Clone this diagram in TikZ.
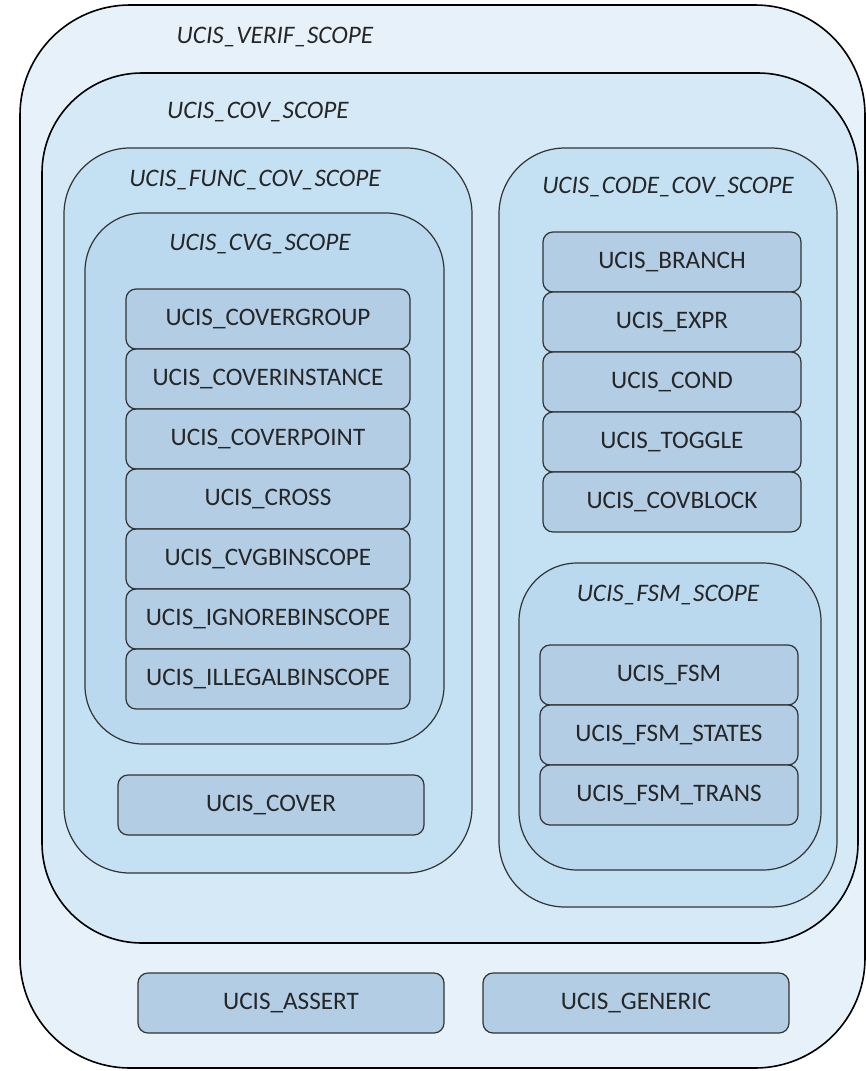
\documentclass[tikz,border=0pt]{standalone}
\usepackage{fontspec}
\setmainfont{Carlito}
\usepackage{xcolor}
\usepackage{tikz}
\usetikzlibrary{positioning}

\definecolor{verifblue}{HTML}{E7F1FA}
\definecolor{covblue}{HTML}{D6E9F7}
\definecolor{groupblue}{HTML}{C3E1F3}
\definecolor{innerblue}{HTML}{BAD9EE}
\definecolor{itemblue}{HTML}{B3CDE4}
\definecolor{edgegray}{HTML}{333333}

\tikzset{
  scopebox/.style={draw=black, line width=0.8pt, rectangle, inner sep=0pt},
  scopelabel/.style={font=\fontsize{12.6}{15}\selectfont\itshape, text=black!85, inner sep=1pt},
  itembox/.style={draw=edgegray, line width=0.6pt, fill=itemblue, rectangle, rounded corners=5pt,
    minimum height=30pt, inner sep=0pt, outer sep=0pt,
    font=\fontsize{12.6}{15}\selectfont, text=black!85},
}

\begin{document}
\begin{tikzpicture}[x=0.5pt, y=-0.5pt, node distance=0pt]
    \useasboundingbox (0,0) rectangle (866,1071);

    % Scopes, outer to inner
    \node (verif) [scopebox, fill=verifblue, rounded corners=55pt, minimum width=422.5pt, minimum height=531.5pt] at (442.5,536.5) {}; % top level scope
    \node (cov) [scopebox, fill=covblue, rounded corners=50pt, minimum width=408pt, minimum height=435pt] at (450,508) {}; % coverage scope
    \node (funccov) [scopebox, draw=edgegray, line width=0.6pt, fill=groupblue, rounded corners=33pt, minimum width=204pt, minimum height=362.5pt] at (268,510.5) {}; % functional coverage
    \node (cvg) [scopebox, draw=edgegray, line width=0.6pt, fill=innerblue, rounded corners=29pt, minimum width=179.5pt, minimum height=265.5pt] at (264.5,478.5) {}; % covergroup scope
    \node (codecov) [scopebox, draw=edgegray, line width=0.6pt, fill=groupblue, rounded corners=33pt, minimum width=169pt, minimum height=379.5pt] at (668,527.5) {}; % code coverage
    \node (fsm) [scopebox, draw=edgegray, line width=0.6pt, fill=innerblue, rounded corners=29pt, minimum width=151pt, minimum height=153.5pt] at (670,716.5) {}; % FSM scope

    % Scope labels
    \node (veriflabel) [scopelabel] at (275,37) {UCIS\_VERIF\_SCOPE};
    \node (covlabel) [scopelabel] at (258,112) {UCIS\_COV\_SCOPE};
    \node (funccovlabel) [scopelabel] at (255,180) {UCIS\_FUNC\_COV\_SCOPE};
    \node (cvglabel) [scopelabel] at (260,244) {UCIS\_CVG\_SCOPE};
    \node (codecovlabel) [scopelabel] at (668,187) {UCIS\_CODE\_COV\_SCOPE};
    \node (fsmlabel) [scopelabel] at (668,595) {UCIS\_FSM\_SCOPE};

    % Covergroup items
    \node (covergroup) [itembox, minimum width=142pt] at (268,319) {UCIS\_COVERGROUP};
    \node (coverinst) [itembox, minimum width=142pt, below=of covergroup] {UCIS\_COVERINSTANCE};
    \node (coverpoint) [itembox, minimum width=142pt, below=of coverinst] {UCIS\_COVERPOINT};
    \node (cross) [itembox, minimum width=142pt, below=of coverpoint] {UCIS\_CROSS};
    \node (cvgbin) [itembox, minimum width=142pt, below=of cross] {UCIS\_CVGBINSCOPE};
    \node (ignorebin) [itembox, minimum width=142pt, below=of cvgbin] {UCIS\_IGNOREBINSCOPE};
    \node (illegalbin) [itembox, minimum width=142pt, below=of ignorebin] {UCIS\_ILLEGALBINSCOPE};
    \node (cover) [itembox, minimum width=153pt] at (271,805) {UCIS\_COVER};

    % Code coverage items
    \node (branch) [itembox, minimum width=129pt] at (672,262) {UCIS\_BRANCH};
    \node (expr) [itembox, minimum width=129pt, below=of branch] {UCIS\_EXPR};
    \node (cond) [itembox, minimum width=129pt, below=of expr] {UCIS\_COND};
    \node (toggle) [itembox, minimum width=129pt, below=of cond] {UCIS\_TOGGLE};
    \node (covblock) [itembox, minimum width=129pt, below=of toggle] {UCIS\_COVBLOCK};

    % FSM items
    \node (fsmitem) [itembox, minimum width=129pt] at (669,675) {UCIS\_FSM};
    \node (fsmstates) [itembox, minimum width=129pt, below=of fsmitem] {UCIS\_FSM\_STATES};
    \node (fsmtrans) [itembox, minimum width=129pt, below=of fsmstates] {UCIS\_FSM\_TRANS};

    % Outside the coverage scope
    \node (assert) [itembox, minimum width=153pt] at (291,1003) {UCIS\_ASSERT};
    \node (generic) [itembox, minimum width=153pt] at (636,1003) {UCIS\_GENERIC};
\end{tikzpicture}
\end{document}
